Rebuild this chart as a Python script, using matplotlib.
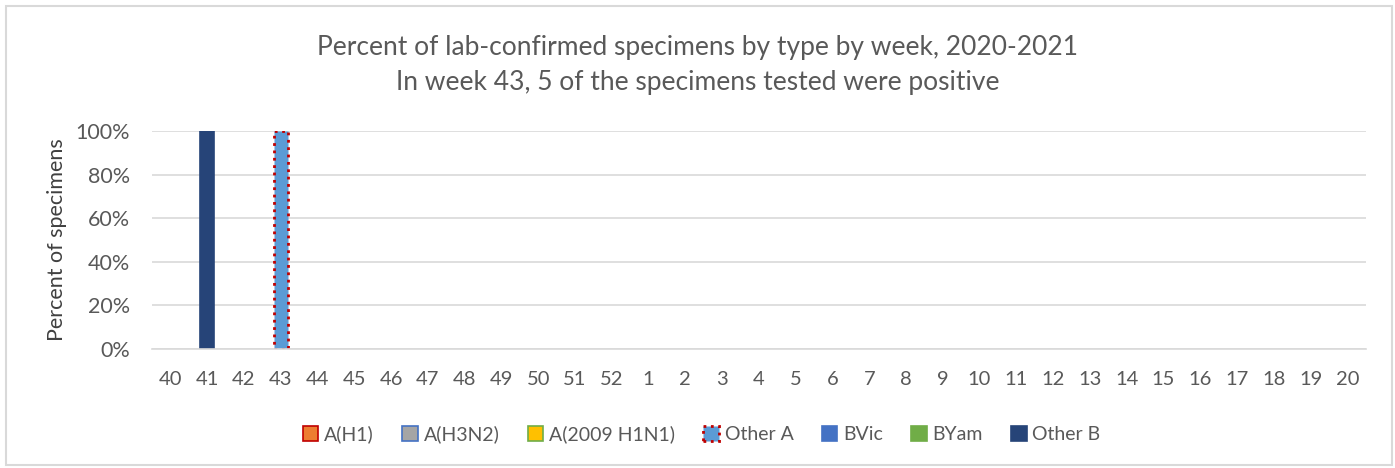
import matplotlib.pyplot as plt
import numpy as np
from matplotlib.patches import Rectangle

plt.rcParams['font.family'] = ['Lato', 'DejaVu Sans']

weeks = ['40', '41', '42', '43', '44', '45', '46', '47', '48', '49', '50', '51', '52',
         '1', '2', '3', '4', '5', '6', '7', '8', '9', '10', '11', '12', '13', '14',
         '15', '16', '17', '18', '19', '20']
n = len(weeks)

# percent of positives by type, per week (only weeks 41 and 43 had data)
a_h1 = [0] * n
a_h3n2 = [0] * n
a_2009 = [0] * n
other_a = [0, 0, 0, 100] + [0] * (n - 4)
bvic = [0] * n
byam = [0] * n
other_b = [0, 100] + [0] * (n - 2)

series = [
    ('A(H1)', a_h1, '#ED7D31', '#C00000', '-'),
    ('A(H3N2)', a_h3n2, '#A5A5A5', '#4472C4', '-'),
    ('A(2009 H1N1)', a_2009, '#FFC000', '#70AD47', '-'),
    ('Other A', other_a, '#5B9BD5', '#C00000', ':'),
    ('BVic', bvic, '#4472C4', '#4472C4', '-'),
    ('BYam', byam, '#70AD47', '#70AD47', '-'),
    ('Other B', other_b, '#264478', '#264478', '-'),
]

fig = plt.figure(figsize=(13.95, 4.68), dpi=100)
ax = fig.add_axes([0.109, 0.2543, 0.870, 0.4658])

x = np.arange(n)
bottom = np.zeros(n)
handles = []
for name, vals, fc, ec, ls in series:
    vals = np.array(vals, dtype=float)
    # no outline on empty bars
    ecs = [ec if v > 0 else 'none' for v in vals]
    b = ax.bar(x, vals, 0.38, bottom=bottom, color=fc, edgecolor=ecs,
               linestyle=ls, linewidth=2 if ls == ':' else 1.2, label=name)
    handles.append(b)
    bottom += vals

ax.set_xlim(-0.5, n - 0.5)
ax.set_ylim(0, 100)
ax.set_yticks(range(0, 101, 20))
ax.set_yticklabels([f'{v}%' for v in range(0, 101, 20)])
ax.set_xticks(x)
ax.set_xticklabels(weeks)
ax.tick_params(axis='both', length=0, colors='#595959')
ax.tick_params(axis='x', pad=16, labelsize=14.5)
ax.tick_params(axis='y', pad=16, labelsize=15.5)
ax.grid(axis='y', color='#D9D9D9', linewidth=1.2)
ax.set_axisbelow(True)
for s in ['left', 'right', 'top']:
    ax.spines[s].set_visible(False)
ax.spines['bottom'].set_color('#D9D9D9')
ax.spines['bottom'].set_linewidth(1.2)
ax.set_ylabel('Percent of specimens', fontsize=15.5, color='#404040', labelpad=6)

fig.text(0.5, 0.898, 'Percent of lab-confirmed specimens by type by week, 2020-2021',
         ha='center', va='center', fontsize=19, color='#595959')
fig.text(0.5, 0.823, 'In week 43, 5 of the specimens tested were positive',
         ha='center', va='center', fontsize=19, color='#595959')

leg = fig.legend(handles=handles, loc='center', bbox_to_anchor=(0.503, 0.072), ncol=7,
                 frameon=False, fontsize=14, handlelength=0.8, handleheight=0.8,
                 handletextpad=0.3, columnspacing=1.45, labelcolor='#595959')
# legend swatches keep the series outline
for patch, (name, vals, fc, ec, ls) in zip(leg.get_patches(), series):
    patch.set_edgecolor(ec)

fig.patches.append(Rectangle((0.004, 0.006), 0.994, 0.981, transform=fig.transFigure,
                             fill=False, edgecolor='#D9D9D9', linewidth=1.5))

fig.savefig('out.png', dpi=100)
